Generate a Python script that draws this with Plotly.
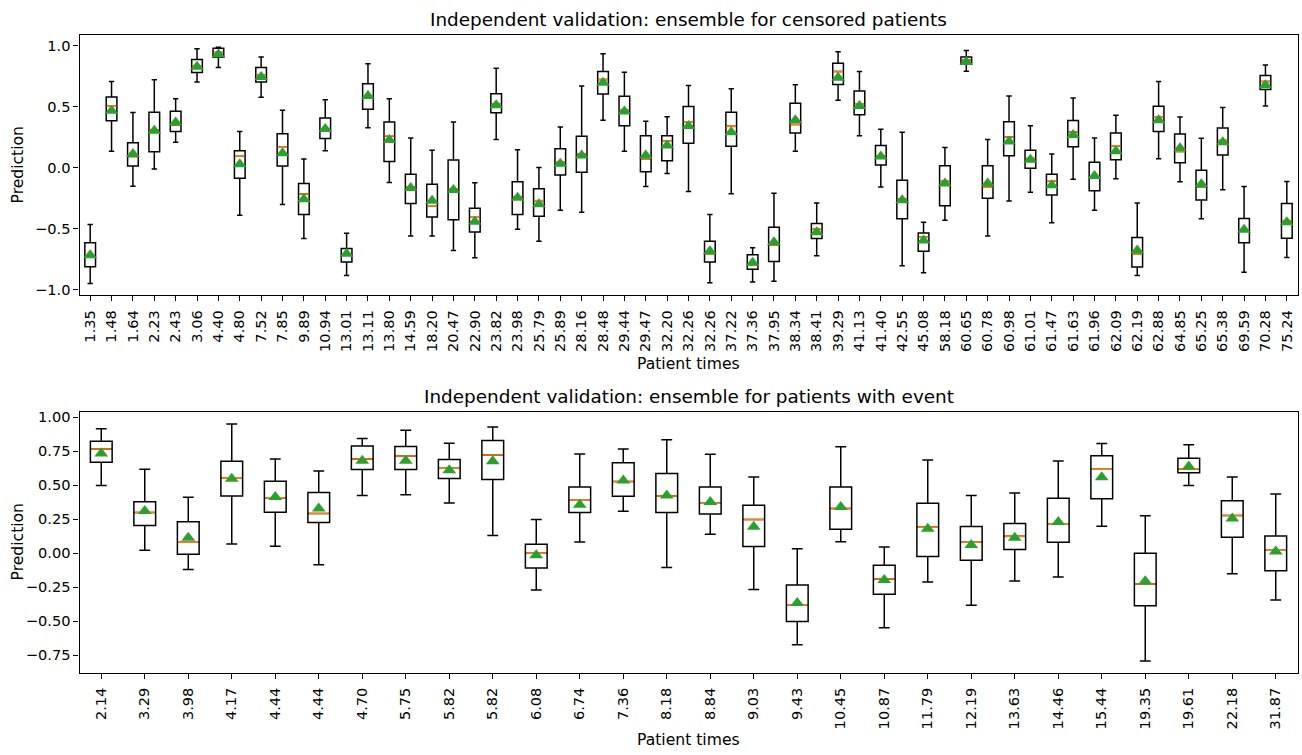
import plotly.graph_objects as go

# ---------------- data: censored patients (top) ----------------
top_labels = ["1.35", "1.48", "1.64", "2.23", "2.43", "3.06", "4.40", "4.80", "7.52", "7.85",
              "9.89", "10.94", "13.01", "13.11", "13.80", "14.59", "18.20", "20.47", "22.90", "23.82",
              "23.98", "25.79", "25.89", "28.16", "28.48", "29.44", "29.47", "32.20", "32.26", "32.26",
              "37.22", "37.36", "37.95", "38.34", "38.41", "39.29", "41.13", "41.40", "42.55", "45.08",
              "58.18", "60.65", "60.78", "60.98", "61.01", "61.47", "61.63", "61.96", "62.09", "62.19",
              "62.88", "64.85", "65.25", "65.38", "69.59", "70.28", "75.24"]
top_whislo = [-0.947, 0.138, -0.149, -0.008, 0.211, 0.704, 0.823, -0.387, 0.579, -0.300,
              -0.579, 0.141, -0.882, 0.330, -0.119, -0.558, -0.558, -0.677, -0.736, 0.233,
              -0.503, -0.600, -0.346, -0.363, 0.392, 0.138, -0.152, -0.046, -0.192, -0.942,
              -0.211, -0.934, -0.928, 0.138, -0.720, 0.555, 0.265, -0.157, -0.801, -0.858,
              -0.428, 0.793, -0.558, -0.271, -0.200, -0.449, -0.092, -0.346, -0.089, -0.882,
              0.076, -0.114, -0.417, -0.179, -0.855, 0.509, -0.733]
top_q1 = [-0.809, 0.387, 0.016, 0.133, 0.298, 0.782, 0.907, -0.084, 0.704, 0.016,
          -0.382, 0.241, -0.771, 0.482, 0.054, -0.292, -0.403, -0.425, -0.525, 0.452,
          -0.382, -0.395, -0.057, -0.035, 0.606, 0.346, -0.030, 0.060, 0.203, -0.771,
          0.179, -0.831, -0.766, 0.287, -0.579, 0.685, 0.436, 0.024, -0.417, -0.682,
          -0.309, 0.853, -0.249, 0.100, -0.003, -0.222, 0.173, -0.187, 0.068, -0.812,
          0.298, 0.043, -0.263, 0.106, -0.614, 0.644, -0.576]
top_med = [-0.725, 0.506, 0.095, 0.311, 0.352, 0.834, 0.947, 0.100, 0.760, 0.170,
           -0.214, 0.322, -0.712, 0.574, 0.263, -0.157, -0.314, -0.170, -0.400, 0.522,
           -0.238, -0.268, 0.051, 0.114, 0.725, 0.474, 0.076, 0.219, 0.379, -0.704,
           0.341, -0.798, -0.631, 0.357, -0.498, 0.790, 0.522, 0.100, -0.257, -0.568,
           -0.106, 0.885, -0.157, 0.254, 0.078, -0.106, 0.295, -0.073, 0.181, -0.704,
           0.419, 0.135, -0.154, 0.225, -0.512, 0.709, -0.433]
top_q3 = [-0.614, 0.582, 0.206, 0.457, 0.465, 0.890, 0.982, 0.141, 0.823, 0.281,
          -0.127, 0.409, -0.660, 0.690, 0.376, -0.051, -0.133, 0.065, -0.330, 0.609,
          -0.114, -0.170, 0.157, 0.260, 0.790, 0.587, 0.265, 0.265, 0.503, -0.601,
          0.457, -0.712, -0.487, 0.530, -0.455, 0.858, 0.631, 0.184, -0.100, -0.533,
          0.019, 0.909, 0.019, 0.379, 0.146, -0.051, 0.390, 0.046, 0.287, -0.571,
          0.506, 0.279, -0.019, 0.327, -0.414, 0.758, -0.292]
top_whishi = [-0.463, 0.709, 0.455, 0.723, 0.568, 0.977, 0.990, 0.298, 0.909, 0.474,
              0.073, 0.560, -0.536, 0.855, 0.568, 0.246, 0.146, 0.376, -0.122, 0.817,
              0.149, 0.003, 0.336, 0.671, 0.936, 0.785, 0.382, 0.420, 0.677, -0.382,
              0.650, -0.655, -0.208, 0.682, -0.287, 0.953, 0.790, 0.317, 0.292, -0.444,
              0.168, 0.963, 0.233, 0.590, 0.346, 0.114, 0.574, 0.246, 0.433, -0.287,
              0.709, 0.417, 0.244, 0.495, -0.152, 0.844, -0.111]
top_mean = [-0.715, 0.470, 0.115, 0.305, 0.373, 0.830, 0.930, 0.030, 0.745, 0.120,
            -0.257, 0.320, -0.704, 0.590, 0.230, -0.165, -0.268, -0.180, -0.440, 0.514,
            -0.244, -0.298, 0.035, 0.103, 0.698, 0.463, 0.103, 0.184, 0.344, -0.682,
            0.292, -0.777, -0.609, 0.392, -0.528, 0.739, 0.509, 0.095, -0.265, -0.595,
            -0.127, 0.869, -0.127, 0.217, 0.068, -0.141, 0.270, -0.065, 0.138, -0.677,
            0.392, 0.162, -0.133, 0.211, -0.506, 0.679, -0.444]

# ---------------- data: patients with event (bottom) ----------------
bot_labels = ["2.14", "3.29", "3.98", "4.17", "4.44", "4.44", "4.70", "5.75", "5.82", "5.82",
              "6.08", "6.74", "7.36", "8.18", "8.84", "9.03", "9.43", "10.45", "10.87", "11.79",
              "12.19", "13.63", "14.46", "15.44", "19.35", "19.61", "22.18", "31.87"]
bot_whislo = [0.498, 0.022, -0.119, 0.068, 0.051, -0.085, 0.425, 0.430, 0.369, 0.131,
              -0.270, 0.083, 0.309, -0.105, 0.139, -0.267, -0.673, 0.085, -0.549, -0.211,
              -0.382, -0.204, -0.175, 0.199, -0.792, 0.498, -0.151, -0.345]
bot_q1 = [0.668, 0.204, -0.007, 0.421, 0.301, 0.226, 0.615, 0.615, 0.549, 0.542,
          -0.109, 0.299, 0.418, 0.299, 0.289, 0.049, -0.503, 0.177, -0.301, -0.024,
          -0.051, 0.027, 0.080, 0.401, -0.386, 0.591, 0.117, -0.129]
bot_med = [0.766, 0.299, 0.080, 0.554, 0.408, 0.292, 0.693, 0.715, 0.625, 0.722,
           0.000, 0.389, 0.527, 0.421, 0.367, 0.248, -0.382, 0.328, -0.190, 0.192,
           0.080, 0.124, 0.216, 0.617, -0.226, 0.620, 0.277, 0.022]
bot_q3 = [0.824, 0.379, 0.231, 0.676, 0.530, 0.447, 0.788, 0.785, 0.690, 0.829,
          0.066, 0.486, 0.666, 0.586, 0.486, 0.352, -0.233, 0.486, -0.088, 0.367,
          0.197, 0.219, 0.404, 0.717, 0.000, 0.698, 0.386, 0.126]
bot_whishi = [0.916, 0.617, 0.411, 0.950, 0.693, 0.605, 0.843, 0.904, 0.809, 0.929,
              0.248, 0.729, 0.766, 0.834, 0.727, 0.561, 0.032, 0.783, 0.046, 0.685,
              0.425, 0.442, 0.678, 0.807, 0.275, 0.797, 0.561, 0.435]
bot_mean = [0.734, 0.310, 0.114, 0.547, 0.413, 0.328, 0.680, 0.680, 0.610, 0.676,
            -0.015, 0.357, 0.535, 0.425, 0.377, 0.194, -0.367, 0.340, -0.197, 0.180,
            0.061, 0.114, 0.230, 0.559, -0.207, 0.637, 0.255, 0.012]

top_yticks = [-1.0, -0.5, 0.0, 0.5, 1.0]
bot_yticks = [-0.75, -0.50, -0.25, 0.0, 0.25, 0.50, 0.75, 1.00]

# ---------------- figure ----------------
W, H = 1302, 755
FONT = "DejaVu Sans"
BOXW = 0.5
MEDIAN_C = "#ff7f0e"
MEAN_C = "#2ca02c"
TICK_FS = 14.6
LABEL_FS = 15.6
TITLE_FS = 18.4

fig = go.Figure()


def add_panel(labels, lo, q1, med, q3, hi, mean, xa, ya):
    pos = list(range(1, len(labels) + 1))
    fig.add_trace(go.Box(
        x=pos, q1=q1, median=med, q3=q3, lowerfence=lo, upperfence=hi,
        width=BOXW, whiskerwidth=0.5, boxpoints=False,
        line=dict(color="black", width=1.5), fillcolor="white",
        xaxis=xa, yaxis=ya, showlegend=False, hoverinfo="skip"))
    mx, my = [], []
    for p, m in zip(pos, med):
        mx += [p - BOXW / 2 + 0.02, p + BOXW / 2 - 0.02, None]
        my += [m, m, None]
    fig.add_trace(go.Scatter(x=mx, y=my, mode="lines",
                             line=dict(color=MEDIAN_C, width=1.6),
                             xaxis=xa, yaxis=ya, showlegend=False, hoverinfo="skip"))
    fig.add_trace(go.Scatter(x=pos, y=mean, mode="markers",
                             marker=dict(symbol="triangle-up", size=12, color=MEAN_C,
                                         line=dict(width=0)),
                             xaxis=xa, yaxis=ya, showlegend=False, hoverinfo="skip"))


add_panel(top_labels, top_whislo, top_q1, top_med, top_q3, top_whishi, top_mean, "x", "y")
add_panel(bot_labels, bot_whislo, bot_q1, bot_med, bot_q3, bot_whishi, bot_mean, "x2", "y2")


def px_x(v):
    return v / W


def px_y(v):
    return 1 - v / H


axis_common = dict(showline=True, linecolor="black", linewidth=1.1, mirror=True,
                   ticks="outside", ticklen=5, tickwidth=1.1, tickcolor="black",
                   showgrid=False, zeroline=False,
                   tickfont=dict(family=FONT, size=TICK_FS, color="black"))


def fmt(v, d):
    s = f"{abs(v):.{d}f}"
    return ("\u2212" + s) if v < 0 else s


fig.update_layout(
    width=W, height=H,
    margin=dict(l=0, r=0, t=0, b=0),
    paper_bgcolor="white", plot_bgcolor="white",
    font=dict(family=FONT, color="black"),
    xaxis=dict(domain=[px_x(79.5), px_x(1297.5)], anchor="y",
               range=[0.5, len(top_labels) + 0.5],
               tickvals=list(range(1, len(top_labels) + 1)), ticktext=top_labels,
               tickangle=-90, ticklabelstandoff=3, **axis_common),
    yaxis=dict(domain=[px_y(294), px_y(31.7)], anchor="x",
               range=[-1.0437, 1.0867],
               tickvals=top_yticks, ticktext=[fmt(v, 1) for v in top_yticks],
               **axis_common),
    xaxis2=dict(domain=[px_x(79.5), px_x(1297.5)], anchor="y2",
                range=[0.5, len(bot_labels) + 0.5],
                tickvals=list(range(1, len(bot_labels) + 1)), ticktext=bot_labels,
                tickangle=-90, ticklabelstandoff=3, **axis_common),
    yaxis2=dict(domain=[px_y(675), px_y(412)], anchor="x2",
                range=[-0.8791, 1.0371],
                tickvals=bot_yticks, ticktext=[fmt(v, 2) for v in bot_yticks],
                **axis_common),
)

ann = [
    ("Independent validation: ensemble for censored patients", 688.5, 16, TITLE_FS, 0),
    ("Independent validation: ensemble for patients with event", 688.5, 396, TITLE_FS, 0),
    ("Patient times", 688.5, 363, LABEL_FS, 0),
    ("Patient times", 688.5, 743, LABEL_FS, 0),
    ("Prediction", 18, 163, LABEL_FS, -90),
    ("Prediction", 18, 543.5, LABEL_FS, -90),
]
for text, x, y, size, ang in ann:
    fig.add_annotation(text=text, x=px_x(x), y=px_y(y), xref="paper", yref="paper",
                       xanchor="center", yanchor="middle", showarrow=False,
                       textangle=ang, font=dict(family=FONT, size=size, color="black"))

fig.write_html("out.html")
